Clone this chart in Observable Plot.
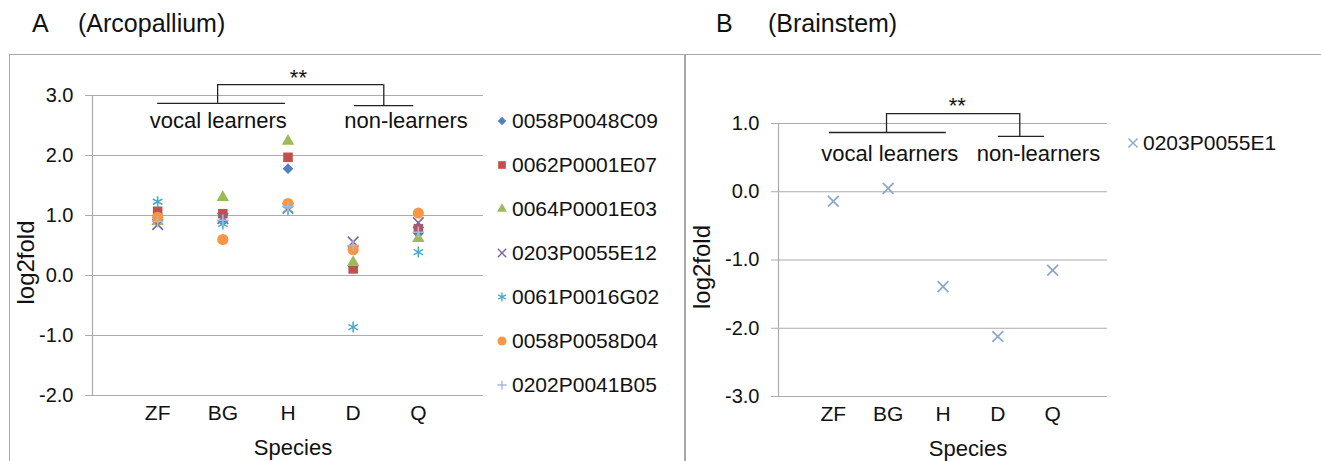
<!DOCTYPE html>
<html><head><meta charset="utf-8">
<script src="https://cdn.jsdelivr.net/npm/d3@7"></script>
<script src="https://cdn.jsdelivr.net/npm/@observablehq/plot@0.6"></script>
<style>
body{margin:0;background:#fff;font-family:"Liberation Sans",Arial,sans-serif;}
#root{position:relative;width:1321px;height:461px;overflow:hidden;background:#fff;}
.abs{position:absolute;white-space:nowrap;}
.title{font-size:25px;line-height:25px;color:#111;}
.leg{display:flex;align-items:center;height:24px;font-size:21px;color:#111;}
.leg svg{flex:none;margin-right:3px;}
</style></head><body><div id="root"></div>
<script>
// ---------- data ----------
const species = ["ZF", "BG", "H", "D", "Q"];
const yTicksA = [-2, -1, 0, 1, 2, 3];
const yTicksB = [-3, -2, -1, 0, 1];
const seriesA = ["0058P0048C09", "0062P0001E07", "0064P0001E03", "0203P0055E12", "0061P0016G02", "0058P0058D04", "0202P0041B05"];
const s0058P0048C09 = [1.00, 0.90, 1.78, 0.15, 0.70];
const s0062P0001E07 = [1.07, 1.03, 1.97, 0.11, 0.78];
const s0064P0001E03 = [0.90, 1.30, 2.24, 0.22, 0.62];
const s0203P0055E12 = [0.85, 0.95, 1.12, 0.56, 0.88];
const s0061P0016G02 = [1.23, 0.86, 1.10, -0.86, 0.39];
const s0058P0058D04 = [0.97, 0.60, 1.20, 0.43, 1.04];
const s0202P0041B05 = [0.90, 0.92, 1.15, 0.50, 0.72];
const valuesA = [s0058P0048C09, s0062P0001E07, s0064P0001E03, s0203P0055E12, s0061P0016G02, s0058P0058D04, s0202P0041B05];
const seriesB = ["0203P0055E1"];
const s0203P0055E1 = [-0.14, 0.05, -1.39, -2.12, -1.15];
const groupLabels = ["vocal learners", "non-learners"];
const significance = "**";

// ---------- styles ----------
const colorsA = ["#4F81BD", "#C0504D", "#9BBB59", "#8064A2", "#4BACC6", "#F79646", "#A3BBDD"];
const symbolsA = ["diamond2", "square", "triangle", "times", "asterisk", "circle", "plus"];
const filledA = [true, true, true, false, false, true, false];
const radiusA = [4.8, 5.4, 4.6, 4.9, 5.2, 5.6, 3.8];
const d3Sym = {diamond2: d3.symbolDiamond2, square: d3.symbolSquare, triangle: d3.symbolTriangle, times: d3.symbolTimes, asterisk: d3.symbolAsterisk, circle: d3.symbolCircle, plus: d3.symbolPlus};
const colorB = "#8EA8CB";
const grid = "#ababab";
const font = "Liberation Sans, Arial, sans-serif";

const root = document.getElementById("root");
function addDiv(cls, text, css) {
  const d = document.createElement("div");
  d.className = "abs " + cls;
  if (text) d.textContent = text;
  Object.assign(d.style, css);
  root.appendChild(d);
  return d;
}
// frames
addDiv("", "", {left: "9px", top: "54px", width: "1312px", height: "1px", background: "#a8a8a8"});
addDiv("", "", {left: "9px", top: "54px", width: "1px", height: "420px", background: "#a8a8a8"});
addDiv("", "", {left: "684px", top: "54px", width: "2px", height: "420px", background: "#a8a8a8"});
// titles
addDiv("title", "A", {left: "32px", top: "11px"});
addDiv("title", "(Arcopallium)", {left: "78px", top: "11px"});
addDiv("title", "B", {left: "716px", top: "11px"});
addDiv("title", "(Brainstem)", {left: "768px", top: "11px"});

function rowsOf(name, vals) { return vals.map((v, i) => ({series: name, x: i + 1, y: v})); }

function annotationMarks(a) {
  const lines = groupLabels.map((g, k) => ({label: g, x1: a.span[k][0], x2: a.span[k][1], y: a.lineY[k], drop: a.dropX[k], lx: a.labelX[k]}));
  return [
    Plot.ruleY(lines, {x1: "x1", x2: "x2", y: "y", stroke: "#222", strokeWidth: 1.3}),
    Plot.ruleX(lines, {x: "drop", y1: "y", y2: a.bracketY, stroke: "#222", strokeWidth: 1.3}),
    Plot.ruleY([a.bracketY], {x1: lines[0].drop, x2: lines[1].drop, stroke: "#222", strokeWidth: 1.3}),
    Plot.text(lines, {x: "lx", y: a.labelY, text: "label", fontSize: 22, fill: "#111"}),
    Plot.text([significance], {x: a.starX, y: a.starY, text: d => d, fontSize: 22, fill: "#111"})
  ];
}

function commonMarks(yTicks, ySpan, lab) {
  return [
    Plot.gridY({ticks: yTicks, stroke: grid, strokeOpacity: 1, strokeWidth: 1.2}),
    Plot.ruleX([0], {y1: ySpan[0], y2: ySpan[1], stroke: grid, strokeWidth: 1.2}),
    Plot.axisY({ticks: yTicks, tickFormat: d => d.toFixed(1), tickSize: 7, tickPadding: 12, stroke: grid, fill: "#111", fontSize: 20, label: null}),
    Plot.axisX({ticks: [1, 2, 3, 4, 5], tickFormat: i => species[i - 1], tickSize: 0, tickPadding: 10, fill: "#111", fontSize: 21, label: null}),
    Plot.text(["Species"], {frameAnchor: "bottom", lineAnchor: "middle", textAnchor: "middle", dx: lab.sx, dy: 52, text: d => d, fontSize: 22, fill: "#111"}),
    Plot.text(["log2fold"], {frameAnchor: "left", textAnchor: "middle", lineAnchor: "middle", dx: lab.yx, dy: lab.yy, rotate: -90, text: d => d, fontSize: 24, fill: "#111"})
  ];
}

// ---------- Panel A ----------
const dotsA = seriesA.map((s, k) => Plot.dot(rowsOf(s, valuesA[k]), {
  x: "x", y: "y", symbol: symbolsA[k], r: radiusA[k],
  fill: filledA[k] ? colorsA[k] : "none",
  stroke: filledA[k] ? "none" : colorsA[k],
  strokeWidth: filledA[k] ? 0 : 1.6
}));
const plotA = Plot.plot({
  width: 685, height: 407,
  marginLeft: 92, marginRight: 202, marginTop: 41, marginBottom: 66,
  x: {domain: [0, 6], axis: null},
  y: {domain: [-2, 3], axis: null},
  style: {background: "transparent", overflow: "visible", maxWidth: "none", fontFamily: font, fontSize: "20px"},
  marks: [
    ...commonMarks(yTicksA, [-2, 3], {sx: 5, yx: -66, yy: 17}),
    ...dotsA,
    ...annotationMarks({span: [[1.0, 2.96], [4.02, 4.93]], lineY: [2.87, 2.83], dropX: [1.92, 4.47], bracketY: 3.18, labelX: [1.93, 4.81], labelY: 2.58, starX: 3.16, starY: 3.30})
  ]
});
Object.assign(plotA.style, {position: "absolute", left: "0px", top: "54px"});
root.appendChild(plotA);

// ---------- Panel B ----------
const plotB = Plot.plot({
  width: 636, height: 407,
  marginLeft: 93, marginRight: 214, marginTop: 69, marginBottom: 65,
  x: {domain: [0, 6], axis: null},
  y: {domain: [-3, 1], axis: null},
  style: {background: "transparent", overflow: "visible", maxWidth: "none", fontFamily: font, fontSize: "20px"},
  marks: [
    ...commonMarks(yTicksB, [-3, 1], {sx: 25, yx: -76, yy: 7}),
    Plot.dot(rowsOf(seriesB[0], s0203P0055E1), {x: "x", y: "y", symbol: "times", r: 5.0, stroke: colorB, strokeWidth: 1.8}),
    ...annotationMarks({span: [[0.93, 3.06], [4.01, 4.85]], lineY: [0.868, 0.81], dropX: [1.97, 4.40], bracketY: 1.146, labelX: [2.03, 4.74], labelY: 0.556, starX: 3.26, starY: 1.26})
  ]
});
Object.assign(plotB.style, {position: "absolute", left: "685px", top: "54px"});
root.appendChild(plotB);

// ---------- legends ----------
function legendItem(name, sym, color, filled, r, left, yc) {
  const d = addDiv("leg", "", {left: left + "px", top: (yc - 12) + "px"});
  const size = 14;
  const svg = d3.create("svg").attr("width", size).attr("height", size);
  svg.append("path")
    .attr("transform", `translate(${size / 2},${size / 2})`)
    .attr("d", d3.symbol(d3Sym[sym], Math.PI * r * r)())
    .attr("fill", filled ? color : "none")
    .attr("stroke", filled ? "none" : color)
    .attr("stroke-width", filled ? 0 : 1.4);
  d.appendChild(svg.node());
  const t = document.createElement("span");
  t.textContent = name;
  d.appendChild(t);
}
seriesA.forEach((s, k) => legendItem(s, symbolsA[k], colorsA[k], filledA[k], radiusA[k] * 0.8, 495, 121 + k * 44));
legendItem(seriesB[0], "times", colorB, false, 4.2, 1126, 143);
</script></body></html>
